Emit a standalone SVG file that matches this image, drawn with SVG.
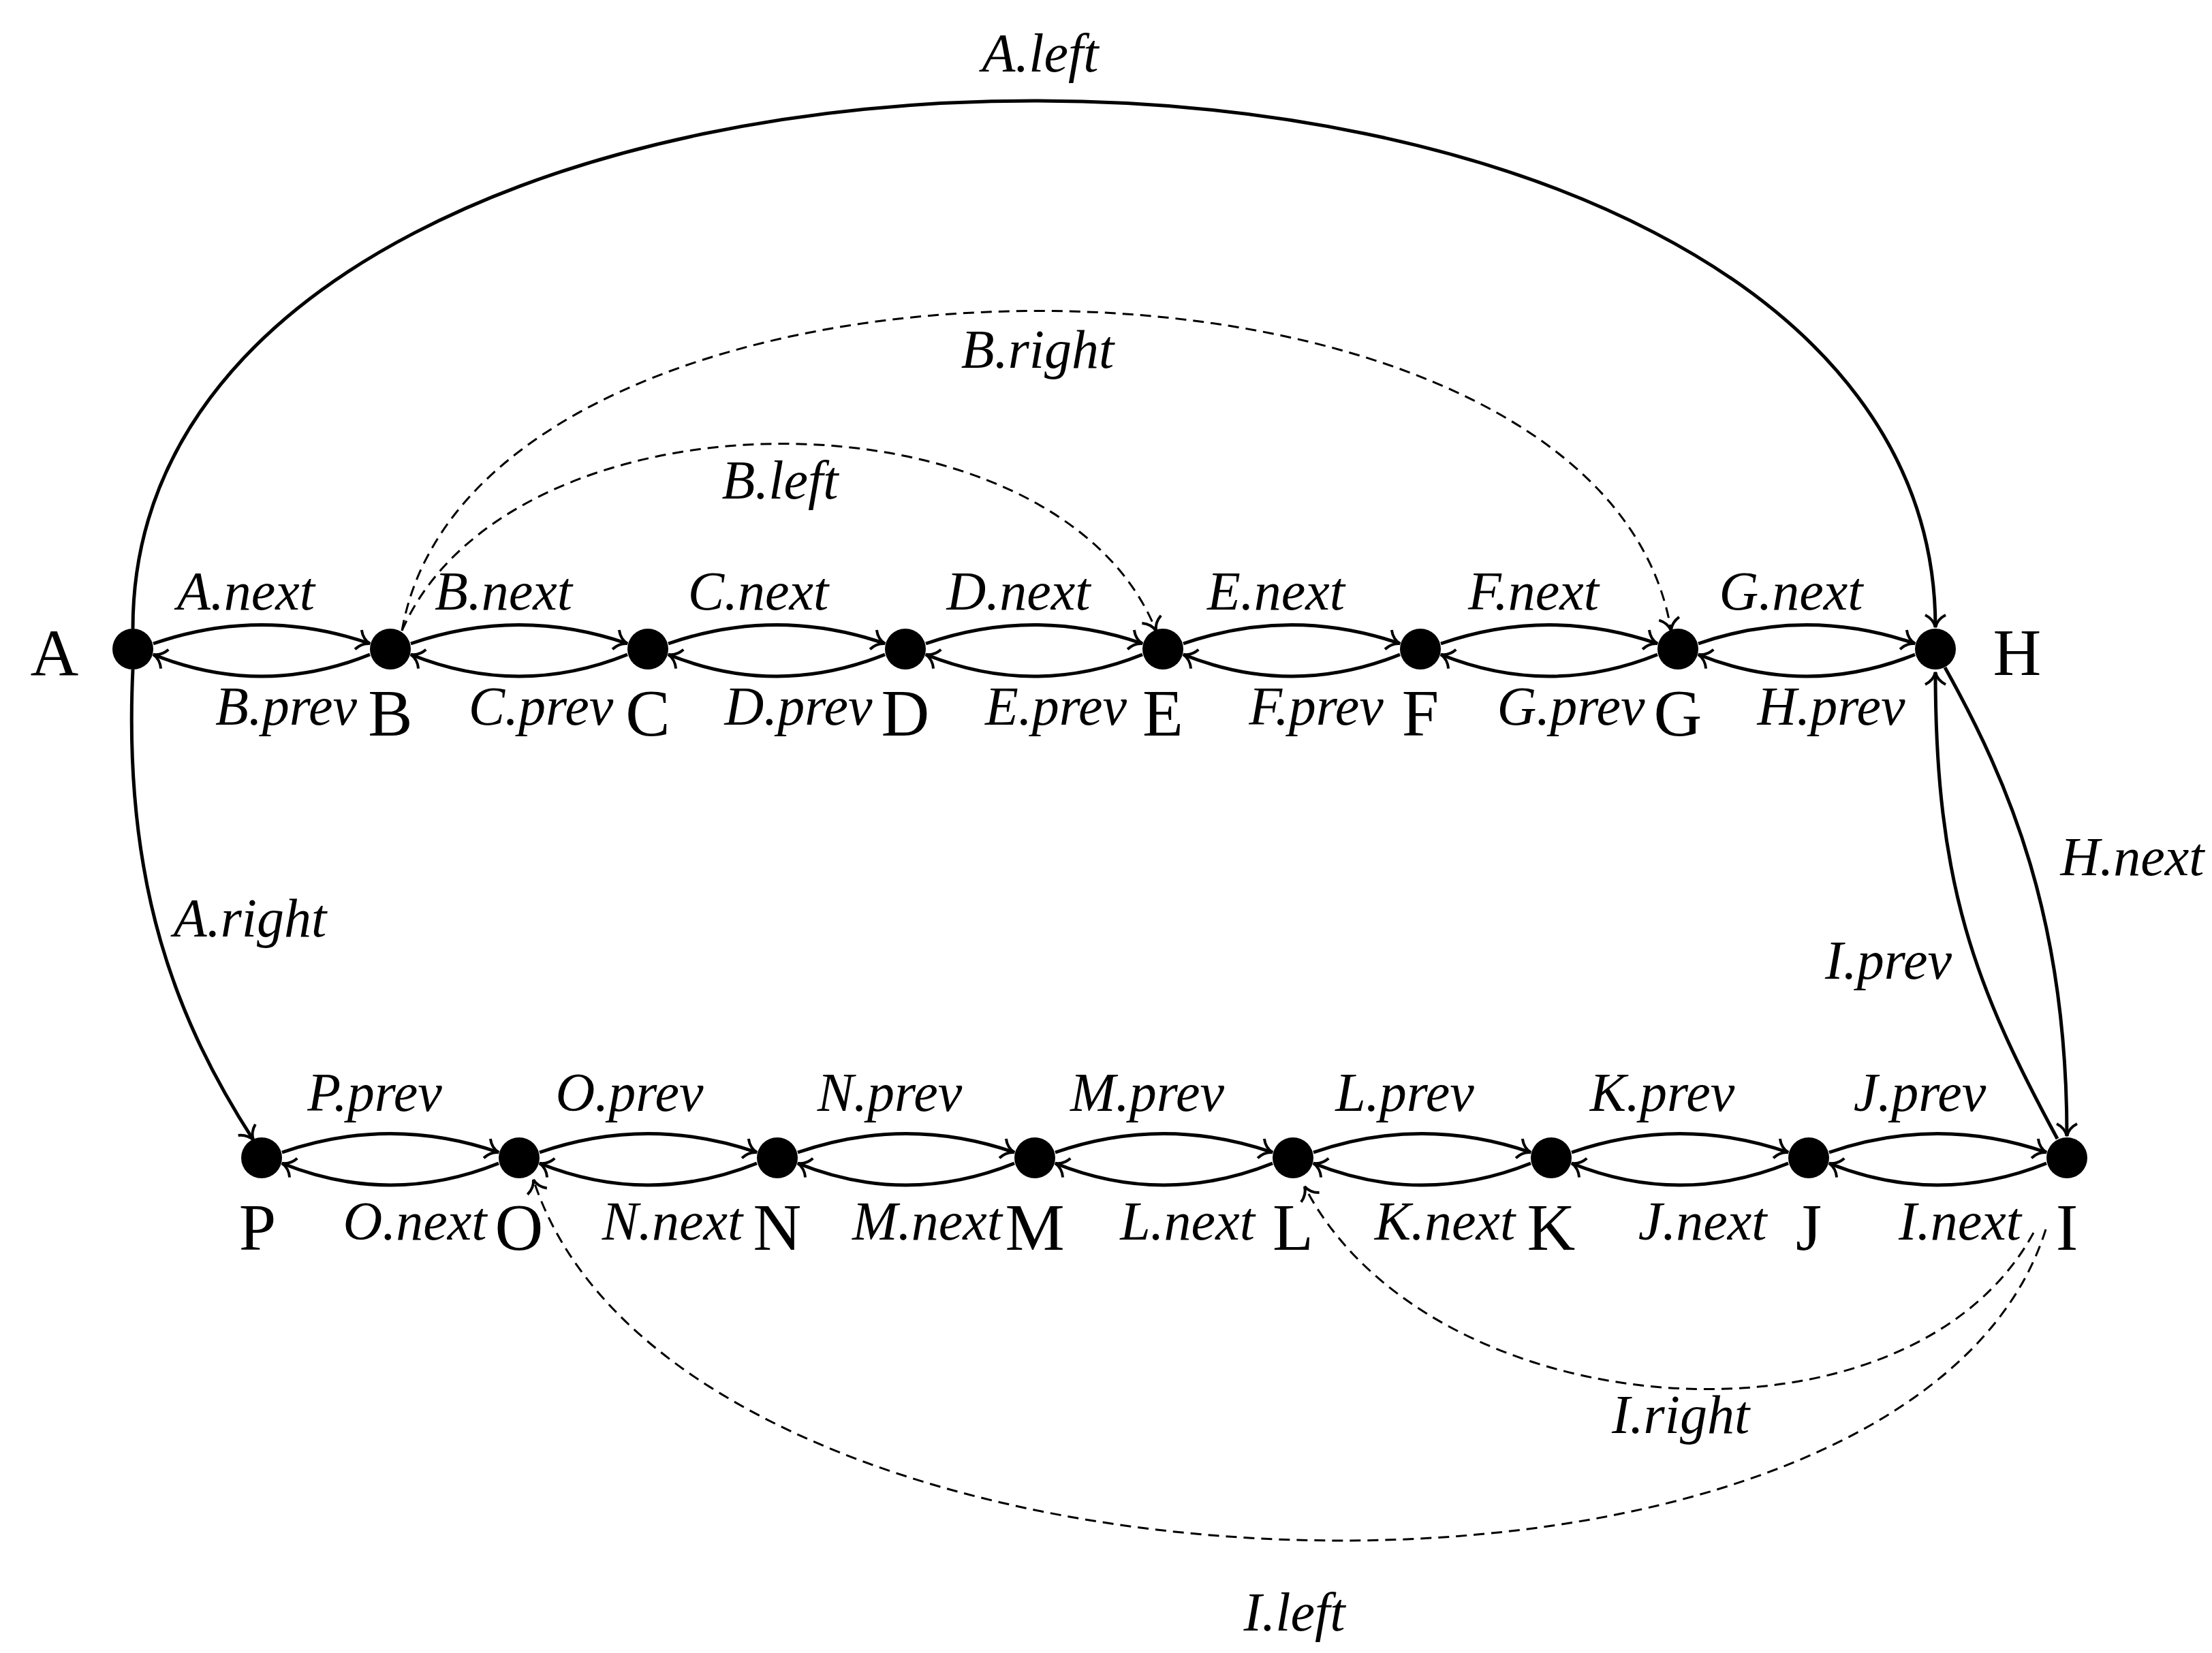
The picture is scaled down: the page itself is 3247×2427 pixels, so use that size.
<svg xmlns="http://www.w3.org/2000/svg" width="3247" height="2427" viewBox="0 0 3247 2427">
<style>
.e{fill:none;stroke:#000;stroke-width:5}
.d{fill:none;stroke:#000;stroke-width:3;stroke-dasharray:16 10}
.l{font-family:"Liberation Serif",serif;font-style:italic;font-size:80px;text-anchor:middle}
.n{font-family:"Liberation Serif",serif;font-size:98px;text-anchor:middle}
</style>
<defs>
<marker id="ar" viewBox="-22 -18 26 36" markerWidth="26" markerHeight="36" refX="0" refY="0" orient="auto" markerUnits="userSpaceOnUse">
<path d="M-18,-15 Q-12,-3 0,0 Q-12,3 -18,15" fill="none" stroke="#000" stroke-width="4"/>
</marker>
</defs>
<g id="connectors">
<path class="e" marker-end="url(#ar)" d="M225,945 Q384,890 543,945"/><path class="e" marker-end="url(#ar)" d="M543,961 Q384,1025 225,961"/>
<path class="e" marker-end="url(#ar)" d="M603,945 Q762,890 921,945"/><path class="e" marker-end="url(#ar)" d="M921,961 Q762,1025 603,961"/>
<path class="e" marker-end="url(#ar)" d="M981,945 Q1140,890 1299,945"/><path class="e" marker-end="url(#ar)" d="M1299,961 Q1140,1025 981,961"/>
<path class="e" marker-end="url(#ar)" d="M1359,945 Q1518,890 1677,945"/><path class="e" marker-end="url(#ar)" d="M1677,961 Q1518,1025 1359,961"/>
<path class="e" marker-end="url(#ar)" d="M1737,945 Q1896,890 2055,945"/><path class="e" marker-end="url(#ar)" d="M2055,961 Q1896,1025 1737,961"/>
<path class="e" marker-end="url(#ar)" d="M2115,945 Q2274,890 2433,945"/><path class="e" marker-end="url(#ar)" d="M2433,961 Q2274,1025 2115,961"/>
<path class="e" marker-end="url(#ar)" d="M2493,945 Q2652,890 2811,945"/><path class="e" marker-end="url(#ar)" d="M2811,961 Q2652,1025 2493,961"/>
<path class="e" marker-end="url(#ar)" d="M414,1692 Q573,1637 732,1692"/><path class="e" marker-end="url(#ar)" d="M732,1708 Q573,1772 414,1708"/>
<path class="e" marker-end="url(#ar)" d="M792,1692 Q951,1637 1111,1692"/><path class="e" marker-end="url(#ar)" d="M1111,1708 Q951,1772 792,1708"/>
<path class="e" marker-end="url(#ar)" d="M1171,1692 Q1330,1637 1489,1692"/><path class="e" marker-end="url(#ar)" d="M1489,1708 Q1330,1772 1171,1708"/>
<path class="e" marker-end="url(#ar)" d="M1549,1692 Q1708,1637 1868,1692"/><path class="e" marker-end="url(#ar)" d="M1868,1708 Q1708,1772 1549,1708"/>
<path class="e" marker-end="url(#ar)" d="M1928,1692 Q2087,1637 2247,1692"/><path class="e" marker-end="url(#ar)" d="M2247,1708 Q2087,1772 1928,1708"/>
<path class="e" marker-end="url(#ar)" d="M2307,1692 Q2466,1637 2625,1692"/><path class="e" marker-end="url(#ar)" d="M2625,1708 Q2466,1772 2307,1708"/>
<path class="e" marker-end="url(#ar)" d="M2685,1692 Q2844,1637 3004,1692"/><path class="e" marker-end="url(#ar)" d="M3004,1708 Q2844,1772 2685,1708"/>
<path class="e" marker-end="url(#ar)" d="M195,923 C195,-110 2841,-110 2841,921"/>
<path class="d" marker-end="url(#ar)" d="M590,926 C700,300 2350,300 2453,926"/>
<path class="d" marker-end="url(#ar)" d="M590,926 C750,560 1550,560 1697,926"/>
<path class="e" marker-end="url(#ar)" d="M195,983 C180,1300 260,1500 372,1674"/>
<path class="e" marker-end="url(#ar)" d="M2855,980 C2950,1150 3034,1350 3034,1668"/>
<path class="e" marker-end="url(#ar)" d="M3020,1672 C2900,1450 2841,1300 2841,987"/>
<path class="d" marker-end="url(#ar)" d="M2985,1810 C2800,2150 2100,2100 1915,1742"/>
<path class="d" marker-end="url(#ar)" d="M3003,1805 C2800,2450 1000,2400 783,1732"/>
</g>
<g id="edge-labels" class="l">
<text x="361" y="895">A.next</text><text x="739" y="895">B.next</text><text x="1113" y="895">C.next</text><text x="1495" y="895">D.next</text><text x="1873" y="895">E.next</text><text x="2251" y="895">F.next</text><text x="2629" y="895">G.next</text>
<text x="420" y="1064">B.prev</text><text x="794" y="1064">C.prev</text><text x="1172" y="1064">D.prev</text><text x="1550" y="1064">E.prev</text><text x="1932" y="1064">F.prev</text><text x="2306" y="1064">G.prev</text><text x="2688" y="1064">H.prev</text>
<text x="550" y="1631">P.prev</text><text x="924" y="1631">O.prev</text><text x="1306" y="1631">N.prev</text><text x="1684" y="1631">M.prev</text><text x="2062" y="1631">L.prev</text><text x="2440" y="1631">K.prev</text><text x="2818" y="1631">J.prev</text>
<text x="609" y="1820">O.next</text><text x="987" y="1820">N.next</text><text x="1361" y="1820">M.next</text><text x="1743" y="1820">L.next</text><text x="2121" y="1820">K.next</text><text x="2499" y="1820">J.next</text><text x="2877" y="1820">I.next</text>
<text x="1527" y="105">A.left</text><text x="1523" y="540">B.right</text><text x="1145" y="732">B.left</text>
<text x="367" y="1375">A.right</text><text x="3130" y="1285">H.next</text><text x="2772" y="1437">I.prev</text>
<text x="2467" y="2104">I.right</text><text x="1900" y="2394">I.left</text>
</g>
<g id="nodes">
<g id="A"><circle cx="195" cy="953" r="30"/><text class="n" x="80" y="991">A</text></g>
<g id="B"><circle cx="573" cy="953" r="30"/><text class="n" x="573" y="1080">B</text></g>
<g id="C"><circle cx="951" cy="953" r="30"/><text class="n" x="951" y="1080">C</text></g>
<g id="D"><circle cx="1329" cy="953" r="30"/><text class="n" x="1329" y="1080">D</text></g>
<g id="E"><circle cx="1707" cy="953" r="30"/><text class="n" x="1707" y="1080">E</text></g>
<g id="F"><circle cx="2085" cy="953" r="30"/><text class="n" x="2085" y="1080">F</text></g>
<g id="G"><circle cx="2463" cy="953" r="30"/><text class="n" x="2463" y="1080">G</text></g>
<g id="H"><circle cx="2841" cy="953" r="30"/><text class="n" x="2961" y="991">H</text></g>
<g id="P"><circle cx="384" cy="1700" r="30"/><text class="n" x="378" y="1835">P</text></g>
<g id="O"><circle cx="762" cy="1700" r="30"/><text class="n" x="762" y="1835">O</text></g>
<g id="N"><circle cx="1141" cy="1700" r="30"/><text class="n" x="1141" y="1835">N</text></g>
<g id="M"><circle cx="1519" cy="1700" r="30"/><text class="n" x="1519" y="1835">M</text></g>
<g id="L"><circle cx="1898" cy="1700" r="30"/><text class="n" x="1898" y="1835">L</text></g>
<g id="K"><circle cx="2277" cy="1700" r="30"/><text class="n" x="2277" y="1835">K</text></g>
<g id="J"><circle cx="2655" cy="1700" r="30"/><text class="n" x="2655" y="1835">J</text></g>
<g id="I"><circle cx="3034" cy="1700" r="30"/><text class="n" x="3034" y="1835">I</text></g>
</g>
</svg>
